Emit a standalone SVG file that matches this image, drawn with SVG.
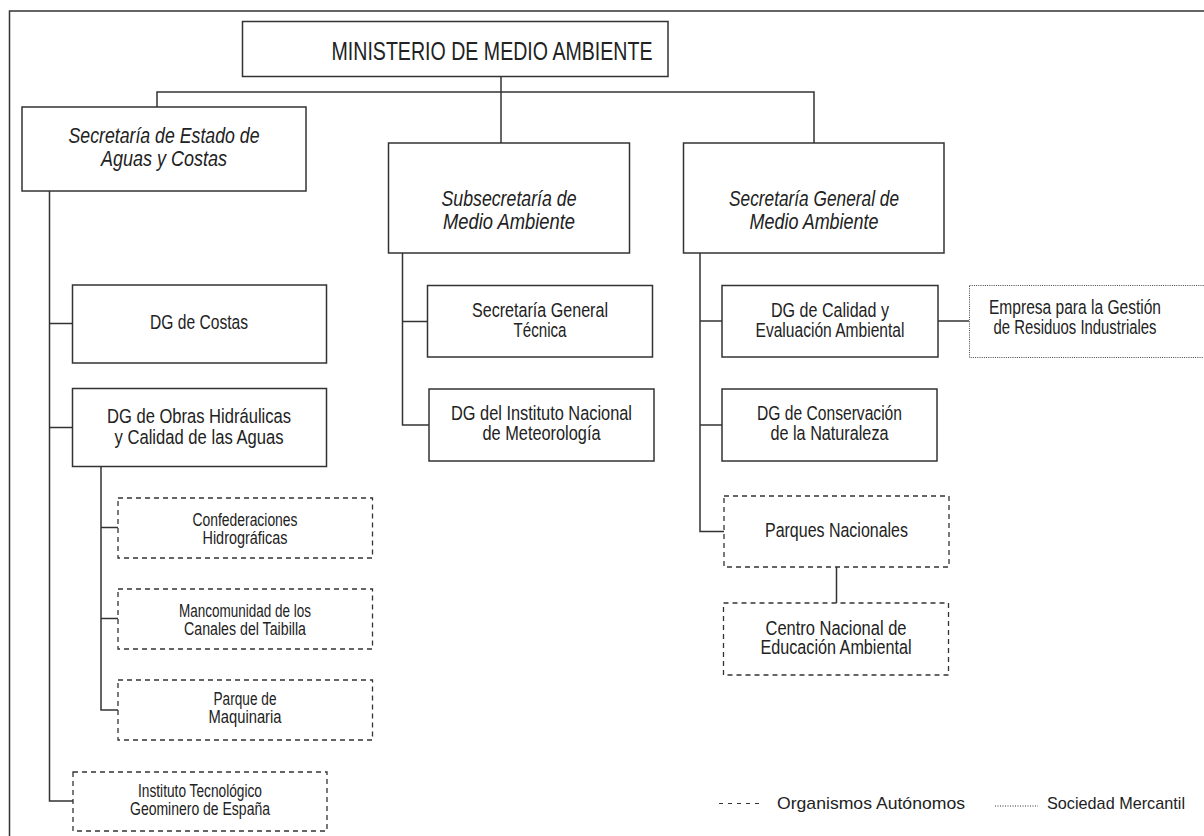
<svg xmlns="http://www.w3.org/2000/svg" width="1204" height="836" viewBox="0 0 1204 836">
<style>
.bg{fill:#fff}
.box{fill:#fff;stroke:#333;stroke-width:1.5}
.dash{fill:#fff;stroke:#333;stroke-width:1.3;stroke-dasharray:5 4}
.dot{fill:#fff;stroke:#444;stroke-width:1;stroke-dasharray:1 1.2}
.ln{fill:none;stroke:#333;stroke-width:1.5}
text{font-family:"Liberation Sans",Arial,sans-serif;fill:#222;text-anchor:middle}
.t20{font-size:20.5px}
.t17{font-size:17.5px}
.it{font-size:21.5px;font-style:italic}
.min{font-size:25px}
.leg{font-size:17px;text-anchor:start}
</style>
<rect class="bg" x="0" y="0" width="1204" height="836"/>
<g id="frame"><path class="ln" d="M9.5 836 V11 H1204"/></g>
<g id="connectors">
<path class="ln" d="M501 77 V143"/>
<path class="ln" d="M157 107 V92 H814 V143"/>
<path class="ln" d="M49.5 191 V801 H73"/>
<path class="ln" d="M49.5 323.5 H72"/>
<path class="ln" d="M49.5 427.5 H72"/>
<path class="ln" d="M101 467 V710 H118"/>
<path class="ln" d="M101 527.5 H118"/>
<path class="ln" d="M101 618.5 H118"/>
<path class="ln" d="M402.5 253 V425 H429"/>
<path class="ln" d="M402.5 321.5 H427"/>
<path class="ln" d="M700 253 V531.5 H724"/>
<path class="ln" d="M700 321 H722"/>
<path class="ln" d="M700 425 H722"/>
<path class="ln" d="M938 321 H969"/>
<path class="ln" d="M836.5 567 V603"/>
</g>
<g id="ministerio"><rect class="box" x="242.5" y="21.5" width="425.5" height="55"/><text class="min" x="492" y="60" textLength="321" lengthAdjust="spacingAndGlyphs">MINISTERIO DE MEDIO AMBIENTE</text></g>
<g id="sec-estado"><rect class="box" x="22" y="107" width="284" height="84"/><text class="it" x="164" y="143" textLength="191" lengthAdjust="spacingAndGlyphs">Secretaría de Estado de</text><text class="it" x="164" y="166" textLength="126" lengthAdjust="spacingAndGlyphs">Aguas y Costas</text></g>
<g id="subsecretaria"><rect class="box" x="388.5" y="143" width="241" height="110"/><text class="it" x="509" y="206" textLength="135" lengthAdjust="spacingAndGlyphs">Subsecretaría de</text><text class="it" x="509" y="229" textLength="132" lengthAdjust="spacingAndGlyphs">Medio Ambiente</text></g>
<g id="sec-general"><rect class="box" x="683.5" y="143" width="260.5" height="110"/><text class="it" x="814" y="206" textLength="170" lengthAdjust="spacingAndGlyphs">Secretaría General de</text><text class="it" x="814" y="229" textLength="129" lengthAdjust="spacingAndGlyphs">Medio Ambiente</text></g>
<g id="dg-costas"><rect class="box" x="72.5" y="285" width="254" height="78"/><text class="t20" x="199" y="329" textLength="98" lengthAdjust="spacingAndGlyphs">DG de Costas</text></g>
<g id="dg-obras"><rect class="box" x="72.5" y="388.5" width="254" height="78"/><text class="t20" x="199" y="423" textLength="184" lengthAdjust="spacingAndGlyphs">DG de Obras Hidráulicas</text><text class="t20" x="199" y="444" textLength="169" lengthAdjust="spacingAndGlyphs">y Calidad de las Aguas</text></g>
<g id="confederaciones"><rect class="dash" x="118" y="498" width="254.5" height="60"/><text class="t17" x="245" y="526" textLength="105" lengthAdjust="spacingAndGlyphs">Confederaciones</text><text class="t17" x="245" y="544" textLength="85" lengthAdjust="spacingAndGlyphs">Hidrográficas</text></g>
<g id="mancomunidad"><rect class="dash" x="118" y="589" width="254.5" height="60"/><text class="t17" x="245" y="617" textLength="132" lengthAdjust="spacingAndGlyphs">Mancomunidad de los</text><text class="t17" x="245" y="635" textLength="122" lengthAdjust="spacingAndGlyphs">Canales del Taibilla</text></g>
<g id="parque-maquinaria"><rect class="dash" x="118" y="680" width="254.5" height="60"/><text class="t17" x="245" y="705" textLength="63" lengthAdjust="spacingAndGlyphs">Parque de</text><text class="t17" x="245" y="723" textLength="73" lengthAdjust="spacingAndGlyphs">Maquinaria</text></g>
<g id="instituto-geominero"><rect class="dash" x="73" y="772" width="254" height="59"/><text class="t17" x="200" y="797" textLength="124" lengthAdjust="spacingAndGlyphs">Instituto Tecnológico</text><text class="t17" x="200" y="815" textLength="140" lengthAdjust="spacingAndGlyphs">Geominero de España</text></g>
<g id="sg-tecnica"><rect class="box" x="427.5" y="285.5" width="225" height="71.5"/><text class="t20" x="540" y="316.5" textLength="136" lengthAdjust="spacingAndGlyphs">Secretaría General</text><text class="t20" x="540" y="336.5" textLength="53" lengthAdjust="spacingAndGlyphs">Técnica</text></g>
<g id="dg-meteorologia"><rect class="box" x="429" y="389" width="225" height="72"/><text class="t20" x="541.5" y="420" textLength="181" lengthAdjust="spacingAndGlyphs">DG del Instituto Nacional</text><text class="t20" x="541.5" y="440" textLength="118" lengthAdjust="spacingAndGlyphs">de Meteorología</text></g>
<g id="dg-calidad"><rect class="box" x="722" y="285.5" width="216" height="71.5"/><text class="t20" x="830" y="316.5" textLength="118" lengthAdjust="spacingAndGlyphs">DG de Calidad y</text><text class="t20" x="830" y="336.5" textLength="149" lengthAdjust="spacingAndGlyphs">Evaluación Ambiental</text></g>
<g id="empresa"><rect class="dot" x="969.5" y="285.5" width="250" height="72"/><text class="t20" x="1075" y="313.5" textLength="172" lengthAdjust="spacingAndGlyphs">Empresa para la Gestión</text><text class="t20" x="1075" y="334" textLength="163" lengthAdjust="spacingAndGlyphs">de Residuos Industriales</text></g>
<g id="dg-conservacion"><rect class="box" x="722" y="389" width="215" height="72"/><text class="t20" x="829.5" y="420" textLength="145" lengthAdjust="spacingAndGlyphs">DG de Conservación</text><text class="t20" x="829.5" y="440" textLength="118" lengthAdjust="spacingAndGlyphs">de la Naturaleza</text></g>
<g id="parques"><rect class="dash" x="724" y="496" width="225" height="71"/><text class="t20" x="836.5" y="537" textLength="143" lengthAdjust="spacingAndGlyphs">Parques Nacionales</text></g>
<g id="centro-educacion"><rect class="dash" x="723.5" y="603" width="225" height="72"/><text class="t20" x="836" y="635" textLength="141" lengthAdjust="spacingAndGlyphs">Centro Nacional de</text><text class="t20" x="836" y="654" textLength="151" lengthAdjust="spacingAndGlyphs">Educación Ambiental</text></g>
<g id="legend">
<line class="ln" x1="719" y1="803.5" x2="764" y2="803.5" style="stroke-width:1.2;stroke-dasharray:4 5"/>
<text class="leg" x="777" y="808.5" textLength="188" lengthAdjust="spacingAndGlyphs">Organismos Autónomos</text>
<line class="ln" x1="995" y1="806" x2="1038" y2="806" style="stroke-width:1;stroke-dasharray:1 1.5"/>
<text class="leg" x="1047" y="808.5" textLength="138" lengthAdjust="spacingAndGlyphs">Sociedad Mercantil</text>
</g>
</svg>
